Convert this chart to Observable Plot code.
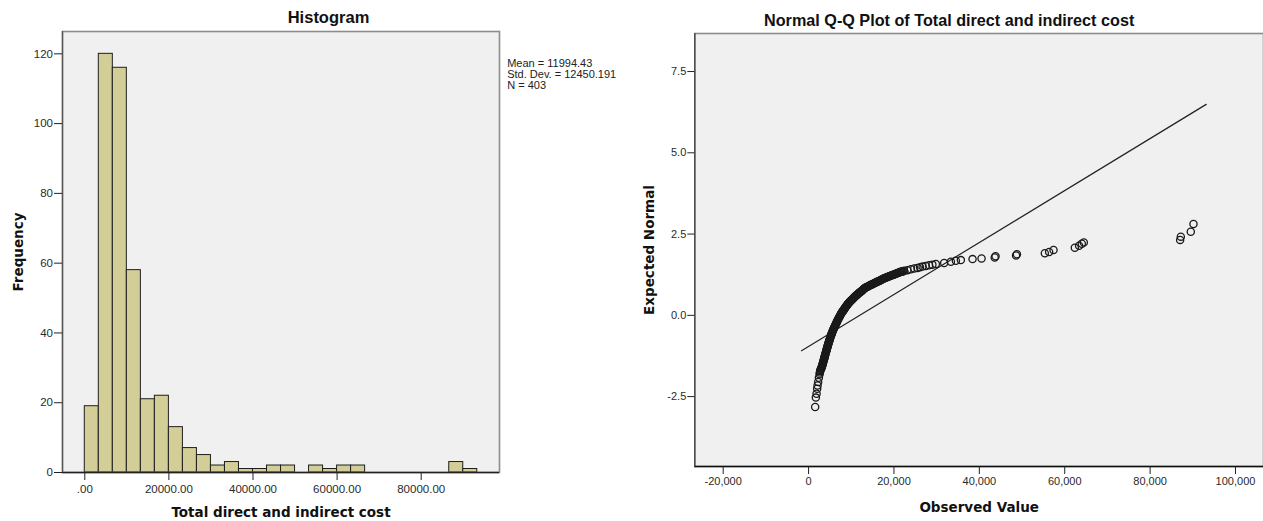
<!DOCTYPE html>
<html><head><meta charset="utf-8">
<script src="https://cdn.jsdelivr.net/npm/d3@7"></script>
<script src="https://cdn.jsdelivr.net/npm/@observablehq/plot@0.6"></script>
<style>
html,body{margin:0;padding:0;background:#fff;}
#wrap{position:relative;width:1263px;height:521px;overflow:hidden;background:#fff;}
#hist{position:absolute;left:0;top:0;}
#qq{position:absolute;left:630px;top:0;}
</style></head><body><div id="wrap"><div id="hist"></div><div id="qq"></div></div>
<script>
// ---------- Histogram data ----------
const histTitle = "Histogram";
const histXLabel = "Total direct and indirect cost";
const histYLabel = "Frequency";
const histStats = ["Mean = 11994.43", "Std. Dev. = 12450.191", "N = 403"];
const binWidth = 3333.33;
const binStarts = [0, 3333.33, 6666.67, 10000, 13333.33, 16666.67, 20000, 23333.33, 26666.67, 30000,
  33333.33, 36666.67, 40000, 43333.33, 46666.67, 50000, 53333.33, 56666.67, 60000, 63333.33,
  66666.67, 70000, 73333.33, 76666.67, 80000, 83333.33, 86666.67, 90000];
const binCounts = [19, 120, 116, 58, 21, 22, 13, 7, 5, 2,
  3, 1, 1, 2, 2, 0, 2, 1, 2, 2,
  0, 0, 0, 0, 0, 0, 3, 1];
const histXTicks = [0, 20000, 40000, 60000, 80000];
const histXTickLabels = [".00", "20000.00", "40000.00", "60000.00", "80000.00"];
const histYTicks = [0, 20, 40, 60, 80, 100, 120];
const histXDomain = [-5300, 98620];
const histYDomain = [0, 126.4];

// ---------- Q-Q data ----------
const qqTitle = "Normal Q-Q Plot of Total direct and indirect cost";
const qqXLabel = "Observed Value";
const qqYLabel = "Expected Normal";
const qqObserved = [
  1546, 1710, 1874, 2014, 2108, 2248, 2412, 2576, 2650, 2717,
  2880, 3045, 3160, 3270, 3380, 3513, 3620, 3720, 3825, 3930,
  4052, 4160, 4270, 4375, 4480, 4590, 4710, 4830, 4955, 5080,
  5223, 5370, 5520, 5690, 5855, 6030, 6210, 6394, 6570, 6750,
  6932, 7140, 7350, 7565,
  7760, 7960, 8150, 8338, 8550, 8760, 8950, 9134, 9360, 9600,
  9840, 10071, 10320, 10580, 10830, 11078, 11370, 11660, 11950, 12249,
  12540, 12830, 13120, 13420, 13800, 14200, 14591, 14980, 15370, 15770,
  16160, 16550, 16930, 17320, 17706, 18100, 18490, 18880, 19275, 19670,
  20060, 20450, 20844, 21230, 21620, 22000, 22390,
  23150, 23960, 24750, 25530, 26100, 26700, 27450, 28240, 29000, 29810,
  31760, 33330, 34500, 35670, 38410, 40520, 43600, 43800, 48600, 48800,
  55340, 56350, 57380, 62370, 63370, 64000, 64470, 87030, 87190, 89530, 90160,
  2800, 2960, 3100, 3215, 3325, 3445, 3565, 3670, 3770, 3875,
  3990, 4105, 4215, 4320, 4430, 4535, 4650, 4770, 4890, 5015,
  5150, 5295, 5445, 5605, 5770, 5940, 6120, 6300, 6480, 6660,
  6840, 7035, 7245, 7455,
  7660, 7860, 8055, 8245, 8445, 8655, 8855, 9040, 9245, 9480,
  9720, 9955, 10195, 10450, 10705, 10955, 11225, 11515, 11805, 12100,
  12395, 12685, 12975, 13270, 13610, 14000, 14395, 14785, 15175, 15570,
  15965, 16355, 16740, 17125, 17515, 17900, 18295, 18685, 19080, 19470,
  19865, 20255, 20650, 21040, 21425, 21810, 22195];
const qqExpected = [
  -2.82, -2.53, -2.41, -2.26, -2.16, -2.05, -1.92, -1.81, -1.76, -1.71,
  -1.66, -1.61, -1.56, -1.51, -1.46, -1.40, -1.35, -1.30, -1.25, -1.19,
  -1.14, -1.09, -1.04, -0.99, -0.94, -0.89, -0.84, -0.79, -0.74, -0.69,
  -0.63, -0.58, -0.53, -0.47, -0.42, -0.37, -0.32, -0.27, -0.22, -0.17,
  -0.12, -0.07, -0.02, 0.04,
  0.08, 0.12, 0.15, 0.19, 0.23, 0.27, 0.30, 0.34, 0.37, 0.41,
  0.44, 0.47, 0.50, 0.54, 0.57, 0.60, 0.63, 0.67, 0.70, 0.73,
  0.76, 0.80, 0.83, 0.86, 0.88, 0.91, 0.94, 0.96, 0.99, 1.01,
  1.04, 1.06, 1.09, 1.11, 1.14, 1.16, 1.18, 1.20, 1.22, 1.24,
  1.26, 1.28, 1.30, 1.32, 1.34, 1.35, 1.37,
  1.39, 1.42, 1.44, 1.46, 1.48, 1.50, 1.52, 1.54, 1.56, 1.58,
  1.61, 1.65, 1.68, 1.70, 1.73, 1.75, 1.78, 1.82, 1.84, 1.88,
  1.91, 1.95, 2.01, 2.08, 2.14, 2.20, 2.24, 2.32, 2.42, 2.57, 2.81,
  -1.685, -1.635, -1.585, -1.535, -1.485, -1.43, -1.375, -1.325, -1.275, -1.22,
  -1.165, -1.115, -1.065, -1.015, -0.965, -0.915, -0.865, -0.815, -0.765, -0.715,
  -0.66, -0.605, -0.555, -0.50, -0.445, -0.395, -0.345, -0.295, -0.245, -0.195,
  -0.145, -0.095, -0.045, 0.01,
  0.06, 0.10, 0.135, 0.17, 0.21, 0.25, 0.285, 0.32, 0.355, 0.39,
  0.425, 0.455, 0.485, 0.52, 0.555, 0.585, 0.615, 0.65, 0.685, 0.715,
  0.745, 0.78, 0.815, 0.845, 0.87, 0.895, 0.925, 0.95, 0.975, 1.00,
  1.025, 1.05, 1.075, 1.10, 1.125, 1.15, 1.17, 1.19, 1.21, 1.23,
  1.25, 1.27, 1.29, 1.31, 1.33, 1.345, 1.36];
const lineObserved = [-1650, 93140];
const lineExpected = [-1.09, 6.49];
const qqXTicks = [-20000, 0, 20000, 40000, 60000, 80000, 100000];
const qqXTickLabels = ["-20,000", "0", "20,000", "40,000", "60,000", "80,000", "100,000"];
const qqYTicks = [-2.5, 0, 2.5, 5, 7.5];
const qqYTickLabels = ["-2.5", "0.0", "2.5", "5.0", "7.5"];
const qqXDomain = [-26650, 106560];
const qqYDomain = [-4.65, 8.67];

// ---------- build ----------
const SANS = "'Liberation Sans', Arial, Helvetica, sans-serif";
const BOLDF = "'DejaVu Sans', Verdana, sans-serif";

const bars = binStarts.map((s, i) => ({x1: s, x2: s + binWidth, y: binCounts[i]})).filter(d => d.y > 0);
const hxMap = new Map(histXTicks.map((t, i) => [t, histXTickLabels[i]]));

const hist = Plot.plot({
  width: 630, height: 521,
  marginLeft: 62, marginRight: 131, marginTop: 31, marginBottom: 49,
  style: {fontFamily: SANS, fontSize: "11.5px", color: "#2a2a2a", background: "transparent"},
  x: {domain: histXDomain},
  y: {domain: histYDomain},
  marks: [
    Plot.frame({fill: "#f0f0f0", stroke: "none"}),
    Plot.rectY(bars, {x1: "x1", x2: "x2", y: "y", inset: 0, fill: "#d3ce97", stroke: "#1e1e1e", strokeWidth: 1}),
    Plot.frame({stroke: "#8c8c8c", strokeWidth: 1.6, fill: "none"}),
    Plot.ruleY([histYDomain[0]], {stroke: "#222", strokeWidth: 1.3}),
    Plot.ruleX([histXDomain[0]], {stroke: "#555", strokeWidth: 1.3}),
    Plot.axisX({ticks: histXTicks, tickFormat: d => hxMap.get(d), tickSize: 8, tickPadding: 4, label: null, stroke: "#222"}),
    Plot.axisY({ticks: histYTicks, tickSize: 8, tickPadding: 1.5, label: null, stroke: "#222"}),
    Plot.text([histTitle], {frameAnchor: "top", dx: 47.5, dy: -13.5, lineAnchor: "middle", textAnchor: "middle", fontSize: 16.5, fontWeight: "bold", fontFamily: SANS, fill: "#111"}),
    Plot.text([histXLabel], {frameAnchor: "bottom", dy: 40, lineAnchor: "middle", textAnchor: "middle", fontSize: 13.5, fontWeight: "bold", fontFamily: BOLDF, fill: "#111"}),
    Plot.text([histYLabel], {frameAnchor: "left", dx: -44, rotate: -90, lineAnchor: "middle", textAnchor: "middle", fontSize: 13.5, fontWeight: "bold", fontFamily: BOLDF, fill: "#111"}),
    Plot.text([histStats.join("\n")], {frameAnchor: "top-right", dx: 7.7, dy: 27.3, textAnchor: "start", lineAnchor: "top", lineHeight: 1, fontSize: 11, fontFamily: SANS, fill: "#222"})
  ]
});
document.getElementById("hist").appendChild(hist);

const pts = qqObserved.map((x, i) => ({x, y: qqExpected[i]}));
const refLine = lineObserved.map((x, i) => ({x, y: lineExpected[i]}));
const qxMap = new Map(qqXTicks.map((t, i) => [t, qqXTickLabels[i]]));
const qyMap = new Map(qqYTicks.map((t, i) => [t, qqYTickLabels[i]]));

const qq = Plot.plot({
  width: 633, height: 521,
  marginLeft: 64.3, marginRight: 0, marginTop: 33, marginBottom: 55,
  style: {fontFamily: SANS, fontSize: "11px", color: "#2a2a2a", background: "transparent"},
  x: {domain: qqXDomain},
  y: {domain: qqYDomain},
  marks: [
    Plot.frame({fill: "#f0f0f0", stroke: "none"}),
    Plot.frame({stroke: "#8c8c8c", strokeWidth: 1.6, fill: "none"}),
    Plot.line(refLine, {x: "x", y: "y", stroke: "#222", strokeWidth: 1.2}),
    Plot.dot(pts, {x: "x", y: "y", r: 3.6, stroke: "#1a1a1a", strokeWidth: 1.3, fill: "none"}),
    Plot.ruleY([qqYDomain[0]], {stroke: "#111", strokeWidth: 1.3}),
    Plot.ruleX([qqXDomain[0]], {stroke: "#444", strokeWidth: 1.3}),
    Plot.axisX({ticks: qqXTicks, tickFormat: d => qxMap.get(d), tickSize: 8, tickPadding: 3, label: null, stroke: "#222"}),
    Plot.axisY({ticks: qqYTicks, tickFormat: d => qyMap.get(d), tickSize: 7, tickPadding: 1.5, label: null, stroke: "#222"}),
    Plot.text([qqTitle], {frameAnchor: "top", dx: -30, dy: -12.5, lineAnchor: "middle", textAnchor: "middle", fontSize: 16.2, fontWeight: "bold", fontFamily: SANS, fill: "#111"}),
    Plot.text([qqXLabel], {frameAnchor: "bottom", dy: 41, lineAnchor: "middle", textAnchor: "middle", fontSize: 13.5, fontWeight: "bold", fontFamily: BOLDF, fill: "#111"}),
    Plot.text([qqYLabel], {frameAnchor: "left", dx: -45.3, rotate: -90, lineAnchor: "middle", textAnchor: "middle", fontSize: 13.5, fontWeight: "bold", fontFamily: BOLDF, fill: "#111"})
  ]
});
document.getElementById("qq").appendChild(qq);
</script>
</body></html>
